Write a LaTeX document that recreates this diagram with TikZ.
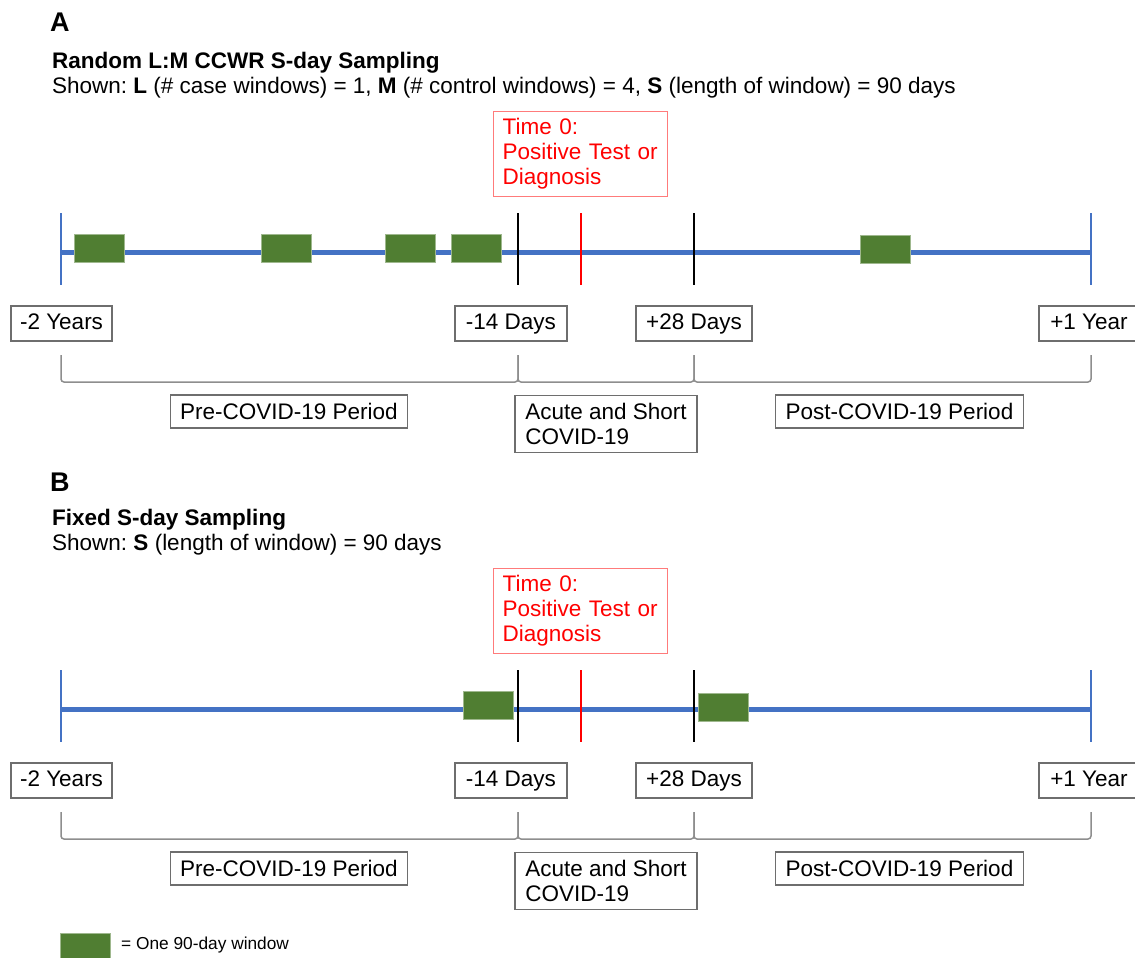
\documentclass[tikz,border=0pt]{standalone}
\usepackage{fontspec}
\setmainfont{Liberation Sans}
\frenchspacing
\definecolor{tlblue}{HTML}{4472C4}
\definecolor{wingreen}{HTML}{507E32}
\definecolor{boxgray}{HTML}{6E6E6E}
\definecolor{bracegray}{HTML}{8E8E8E}
\definecolor{t0red}{HTML}{FF0000}
\definecolor{t0border}{HTML}{FF7B7B}
\tikzset{
  lbl/.style={draw=boxgray, line width=1.2pt, fill=white, inner xsep=0pt, inner ysep=0pt,
    minimum height=35pt, text height=16pt, text depth=5pt, font=\fontsize{22.5}{26}\selectfont},
  period/.style={draw=boxgray, line width=1.2pt, fill=white, inner xsep=10pt, inner ysep=0pt,
    minimum height=33pt, font=\fontsize{22.5}{25}\selectfont, align=left},
  win/.style={fill=wingreen, draw=wingreen!55!white, line width=0.8pt, minimum width=50pt,
    minimum height=28pt, inner sep=0pt},
  t0box/.style={draw=t0border, line width=1.2pt, text=t0red, align=left, text width=156pt,
    inner xsep=9pt, inner ysep=5pt, minimum height=85pt, anchor=north west,
    font=\fontsize{22.5}{25}\selectfont},
  tline/.style={draw=tlblue, line width=5pt},
  btick/.style={draw=tlblue, line width=2.4pt},
  ktick/.style={draw=black, line width=2.6pt},
  rtick/.style={draw=t0red, line width=2.6pt},
  brace/.style={draw=bracegray, line width=1.5pt, rounded corners=3pt},
  hdr/.style={anchor=base west, inner sep=0pt, font=\bfseries\fontsize{27}{30}\selectfont},
  ttl/.style={anchor=base west, inner sep=0pt, font=\bfseries\fontsize{22.5}{26}\selectfont},
  sub/.style={anchor=base west, inner sep=0pt, font=\fontsize{22.5}{26}\selectfont},
}
\begin{document}
\begin{tikzpicture}[x=1pt, y=-1pt]
\useasboundingbox (0,0) rectangle (1135,958);

% headers
\node[hdr] (hA) at (50,32) {A};
\node[ttl] (tA) at (52,68) {Random L:M CCWR S-day Sampling};
\node[sub] (sA) at (52,93) {Shown: \textbf{L} (\# case windows) = 1, \textbf{M} (\# control windows) = 4, \textbf{S} (length of window) = 90 days};
\node[hdr] (hB) at (50,491) {B};
\node[ttl] (tB) at (52,525) {Fixed S-day Sampling};
\node[sub] (sB) at (52,550) {Shown: \textbf{S} (length of window) = 90 days};

\foreach \p/\dy in {A/0,B/457}{
  \begin{scope}[yshift=-\dy pt]
    \node[t0box] (time\p) at (493,111) {Time 0:\\Positive Test or\\Diagnosis};
    \coordinate (L\p) at (61,252);
    \coordinate (R\p) at (1091,252);
    \draw[tline] (L\p) -- (R\p);
    \coordinate (Lt\p) at (61,213); \coordinate (Lb\p) at (61,285);
    \coordinate (Rt\p) at (1091,213); \coordinate (Rb\p) at (1091,285);
    \coordinate (Mt\p) at (518,213); \coordinate (Mb\p) at (518,285);
    \coordinate (Pt\p) at (694,213); \coordinate (Pb\p) at (694,285);
    \coordinate (Zt\p) at (581,213); \coordinate (Zb\p) at (581,285);
    \draw[btick] (Lt\p) -- (Lb\p);
    \draw[btick] (Rt\p) -- (Rb\p);
    \draw[rtick] (Zt\p) -- (Zb\p);
    \node[lbl, minimum width=101pt] (m2y\p) at (61.5,323.5) {-2 Years};
    \node[lbl, minimum width=112pt] (m14\p) at (511,323.5) {-14 Days};
    \node[lbl, minimum width=116pt] (p28\p) at (694,323.5) {+28 Days};
    \node[lbl, minimum width=100pt] (p1y\p) at (1089,323.5) {+1 Year};
    \draw[brace] (61,355) -- (61,382) -- (518,382) -- (518,355);
    \draw[brace] (518,355) -- (518,382) -- (694,382) -- (694,355);
    \draw[brace] (694,355) -- (694,382) -- (1091,382) -- (1091,355);
    \node[period, minimum width=234pt] (pre\p) at (289,411.5) {Pre-COVID-19 Period};
    \node[period, minimum width=182pt, minimum height=57pt, inner xsep=9pt, anchor=north] (acu\p) at (606,395) {Acute and Short\\COVID-19};
    \node[period, minimum width=247pt] (post\p) at (899.5,411.5) {Post-COVID-19 Period};
  \end{scope}
}

% windows panel A
\node[win] (wA1) at (99,248) {};
\node[win] (wA2) at (286,248) {};
\node[win] (wA3) at (410,248) {};
\node[win] (wA4) at (476,248) {};
\node[win] (wA5) at (885,249) {};
% windows panel B
\node[win] (wB1) at (488.5,705.5) {};
\node[win] (wB2) at (723,707) {};

% black boundary lines on top
\foreach \p in {A,B}{
  \draw[ktick] (Mt\p) -- (Mb\p);
  \draw[ktick] (Pt\p) -- (Pb\p);
}

% legend
\node[win, minimum height=26pt, anchor=north west] (legbox) at (60,933) {};
\node[anchor=west, inner sep=0pt, font=\fontsize{17.3}{20}\selectfont] (legtxt) at (121,945) {= One 90-day window};
\end{tikzpicture}
\end{document}
